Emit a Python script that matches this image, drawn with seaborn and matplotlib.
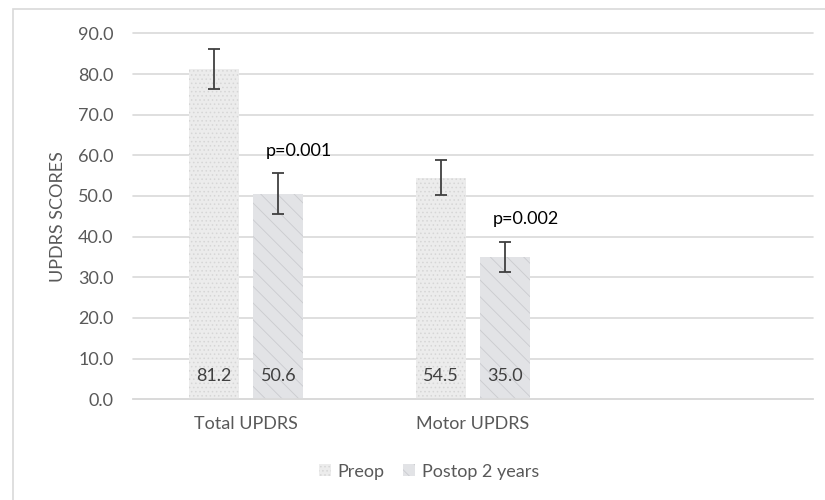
import matplotlib
matplotlib.use("Agg")
import matplotlib.pyplot as plt
import seaborn as sns
import pandas as pd
from matplotlib.patches import Rectangle, Patch

# values
categories = ["Total UPDRS", "Motor UPDRS"]
groups = ["Preop", "Postop 2 years"]
preop = [81.2, 54.5]
postop = [50.6, 35.0]
preop_err = [5.0, 4.3]
postop_err = [5.0, 3.8]
p_values = ["p=0.001", "p=0.002"]
yticks = [0, 10, 20, 30, 40, 50, 60, 70, 80, 90]

df = pd.DataFrame({
    "Category": categories * 2,
    "Group": [groups[0]] * 2 + [groups[1]] * 2,
    "Score": preop + postop,
})

sns.set_style("white")
plt.rcParams["font.family"] = ["Lato", "DejaVu Sans"]
plt.rcParams["hatch.linewidth"] = 0.6

FS = 13

fig = plt.figure(figsize=(8.25, 5), dpi=100)
ax = fig.add_axes([0.1612, 0.2014, 0.8243, 0.7319])

face_colors = ["#ececec", "#e2e3e6"]
hatch_colors = ["#d6d6d6", "#cacbcf"]
hatches = ["....", "\\\\"]

sns.barplot(data=df, x="Category", y="Score", hue="Group",
            order=categories + [""], hue_order=groups,
            palette=face_colors, width=0.565, gap=0.22,
            errorbar=None, legend=False, ax=ax)

errs = [preop_err, postop_err]
vals = [preop, postop]
bar_conts = list(ax.containers)
for i, cont in enumerate(bar_conts):
    for bar in cont:
        cx = bar.get_x() + bar.get_width() / 2
        j = int(round(cx))
        bar.set_facecolor(face_colors[i])
        bar.set_edgecolor(hatch_colors[i])
        bar.set_hatch(hatches[i])
        bar.set_linewidth(0)
        ax.errorbar(cx, vals[i][j], yerr=errs[i][j], fmt="none",
                    ecolor="#404040", elinewidth=1.3, capsize=4.5, capthick=1.3)
        ax.text(cx, 5.8, f"{vals[i][j]:.1f}", ha="center", va="center",
                fontsize=FS, color="#404040")
        if i == 1:
            ax.text(cx + 0.09, vals[i][j] + errs[i][j] + 5.5, p_values[j],
                    ha="center", va="center", fontsize=FS, color="black")

ax.set_ylim(0, 90)
ax.set_xlim(-0.5, 2.5)
ax.set_yticks(yticks)
ax.set_yticklabels([f"{t:.1f}" for t in yticks])
ax.yaxis.grid(True, color="#d9d9d9", linewidth=1.2)
ax.set_axisbelow(True)
for g in ax.get_ygridlines():
    g.set_clip_on(False)
for s in ["top", "right", "left"]:
    ax.spines[s].set_visible(False)
ax.spines["bottom"].set_color("#d9d9d9")
ax.spines["bottom"].set_linewidth(1.2)
ax.tick_params(axis="both", length=0, labelsize=FS, labelcolor="#595959")
ax.tick_params(axis="y", pad=14)
ax.tick_params(axis="x", pad=12)
ax.set_xlabel("")
ax.set_ylabel("UPDRS SCORES", fontsize=FS, color="#595959", labelpad=9)

handles = [Patch(facecolor=face_colors[k], edgecolor=hatch_colors[k],
                 hatch=hatches[k], linewidth=0) for k in range(2)]
fig.legend(handles, groups, loc="center", bbox_to_anchor=(0.52, 0.057),
           ncol=2, frameon=False, fontsize=FS, labelcolor="#595959",
           handlelength=0.65, handleheight=0.65, handletextpad=0.4, columnspacing=1.0)

fig.patches.append(Rectangle((13 / 825, -0.05), 1.2, 1.05 - 9 / 500,
                             transform=fig.transFigure, fill=False,
                             edgecolor="#d9d9d9", linewidth=1.2))

fig.savefig("out.png", dpi=100)
